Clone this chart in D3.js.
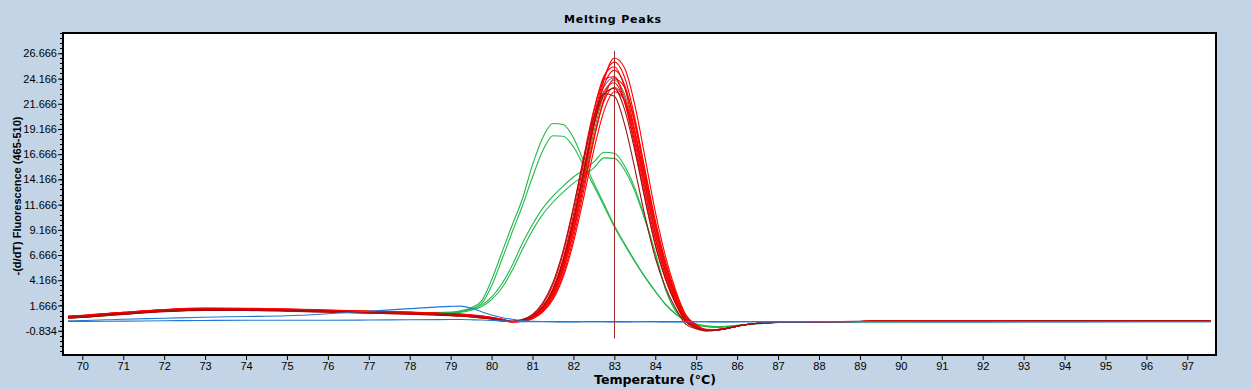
<!DOCTYPE html>
<html><head><meta charset="utf-8">
<script src="https://cdn.jsdelivr.net/npm/d3@7"></script>
<style>
body{margin:0;background:#C2D4E5;}
svg{display:block;font-family:"Liberation Sans",Arial,sans-serif;}
</style>
</head><body>
<svg id="chart" width="1251" height="390"></svg>
<script>
// ---------- data ----------
const temps = [69.65,70,71,72,73,74,75,76,77,78,79,79.25,79.5,79.75,80,80.25,80.5,80.75,81,81.25,81.5,81.75,82,82.25,82.5,82.75,83,83.25,83.5,83.75,84,84.25,84.5,84.75,85,85.25,85.5,85.75,86,86.25,86.5,86.75,87,88,89,90,92,94,96,97.57];

const red1 = [0.6,0.68,0.98,1.25,1.38,1.37,1.3,1.2,1.1,1.0,0.85,0.8,0.7,0.6,0.48,0.3,0.05,0.11,0.41,1.15,2.58,5.13,9.05,14.13,19.57,24.02,26.2,25.21,21.55,16.33,10.97,6.53,3.15,0.71,-0.23,-0.7,-0.72,-0.6,-0.38,-0.22,-0.1,-0.04,0,0.05,0.08,0.1,0.1,0.12,0.12,0.12];
const red2 = [0.55,0.63,0.93,1.2,1.33,1.32,1.25,1.15,1.05,0.95,0.8,0.75,0.67,0.56,0.44,0.26,0.06,0.15,0.49,1.34,2.95,5.72,9.83,15.0,20.27,24.29,25.8,24.29,20.27,15.0,9.83,5.72,2.65,0.44,-0.36,-0.75,-0.74,-0.6,-0.38,-0.22,-0.1,-0.04,0,0.05,0.08,0.1,0.1,0.12,0.12,0.12];
const red3 = [0.5,0.58,0.88,1.15,1.28,1.27,1.2,1.1,1.0,0.9,0.75,0.7,0.62,0.52,0.4,0.22,0.08,0.19,0.6,1.56,3.34,6.33,10.64,15.83,20.89,24.44,25.34,23.29,18.97,13.7,8.77,4.98,2.2,0.22,-0.46,-0.8,-0.75,-0.6,-0.37,-0.21,-0.1,-0.04,0,0.05,0.08,0.1,0.11,0.12,0.12,0.12];
const red4 = [0.45,0.53,0.83,1.1,1.23,1.22,1.15,1.05,0.95,0.85,0.7,0.65,0.57,0.47,0.35,0.17,0.06,0.14,0.47,1.3,2.86,5.54,9.53,14.53,19.65,23.54,25.0,23.54,19.65,14.53,9.53,5.54,2.56,0.4,-0.37,-0.76,-0.74,-0.6,-0.38,-0.22,-0.1,-0.04,0,0.05,0.08,0.1,0.1,0.12,0.12,0.12];
const red5 = [0.58,0.66,0.96,1.23,1.36,1.35,1.28,1.18,1.08,0.98,0.83,0.78,0.7,0.6,0.47,0.3,0.1,0.24,0.71,1.78,3.71,6.87,11.26,16.37,21.08,24.07,24.36,21.86,17.38,12.25,7.66,4.24,1.78,0.01,-0.55,-0.83,-0.78,-0.61,-0.39,-0.22,-0.1,-0.04,0,0.05,0.08,0.1,0.1,0.12,0.12,0.12];
const red6 = [0.42,0.5,0.8,1.07,1.2,1.19,1.12,1.02,0.92,0.82,0.67,0.62,0.54,0.44,0.32,0.14,0.05,0.1,0.37,1.06,2.38,4.74,8.36,13.05,18.08,22.19,24.14,23.29,19.91,15.08,10.13,6.03,2.89,0.59,-0.28,-0.72,-0.73,-0.6,-0.38,-0.22,-0.1,-0.04,0,0.05,0.08,0.1,0.1,0.12,0.12,0.12];
const red7 = [0.53,0.61,0.91,1.18,1.31,1.3,1.23,1.13,1.03,0.93,0.78,0.73,0.65,0.55,0.43,0.25,0.07,0.17,0.56,1.46,3.13,5.93,9.97,14.83,19.57,22.9,23.74,21.82,17.77,12.84,8.22,4.67,2.04,0.15,-0.49,-0.81,-0.75,-0.6,-0.38,-0.22,-0.1,-0.04,0,0.05,0.08,0.1,0.1,0.12,0.12,0.12];
const red8 = [0.47,0.55,0.85,1.12,1.25,1.24,1.17,1.07,0.97,0.87,0.72,0.67,0.59,0.49,0.37,0.19,0.05,0.13,0.44,1.21,2.66,5.17,8.88,13.55,18.31,21.94,23.3,21.94,18.31,13.55,8.88,5.17,2.36,0.31,-0.41,-0.77,-0.74,-0.6,-0.38,-0.22,-0.1,-0.04,0,0.05,0.08,0.1,0.1,0.12,0.12,0.12];
const red9 = [0.62,0.7,1.0,1.27,1.4,1.39,1.32,1.22,1.12,1.02,0.87,0.82,0.74,0.64,0.5,0.32,0.04,0.09,0.35,1.01,2.25,4.48,7.91,12.35,17.1,20.99,22.85,22.03,18.83,14.27,9.59,5.71,2.72,0.51,-0.31,-0.73,-0.73,-0.6,-0.38,-0.22,-0.1,-0.04,0,0.05,0.08,0.1,0.1,0.12,0.12,0.12];
const darkRed1 = [0.4,0.48,0.78,1.05,1.18,1.17,1.1,1.0,0.9,0.8,0.65,0.6,0.52,0.42,0.3,0.12,0.11,0.28,0.79,1.94,3.95,7.13,11.41,16.18,20.35,22.68,22.41,19.63,15.24,10.49,6.4,3.46,1.36,-0.2,-0.63,-0.86,-0.79,-0.6,-0.38,-0.22,-0.1,-0.04,0,0.05,0.08,0.1,0.1,0.12,0.12,0.12];
const darkRed2 = [0.5,0.58,0.88,1.15,1.28,1.27,1.2,1.1,1.0,0.9,0.75,0.7,0.62,0.52,0.4,0.22,0.08,0.19,0.59,1.53,3.24,6.08,10.12,14.92,19.5,22.58,23.19,21.11,17.03,12.18,7.72,4.34,1.86,0.06,-0.53,-0.82,-0.77,-0.6,-0.38,-0.22,-0.1,-0.04,0,0.05,0.08,0.1,0.1,0.12,0.12,0.12];
const olive1 = [0.52,0.6,0.9,1.17,1.3,1.29,1.22,1.12,1.02,0.92,0.77,0.72,0.64,0.54,0.42,0.24,0.06,0.14,0.45,1.25,2.74,5.32,9.15,13.95,18.86,22.6,24.0,22.6,18.86,13.95,9.15,5.32,2.44,0.35,-0.4,-0.77,-0.74,-0.6,-0.38,-0.22,-0.1,-0.04,0,0.06,0.09,0.11,0.11,0.12,0.12,0.12];
const purple1 = [0.48,0.56,0.86,1.13,1.26,1.25,1.18,1.08,0.98,0.9,0.8,0.76,0.68,0.56,0.42,0.24,0.08,0.18,0.57,1.49,3.2,6.06,10.18,15.15,19.99,23.39,24.25,22.29,18.15,13.11,8.39,4.77,2.09,0.17,-0.48,-0.81,-0.75,-0.6,-0.38,-0.22,-0.1,-0.04,0,0.05,0.09,0.1,0.1,0.12,0.12,0.12];
const green1 = [0.42,0.5,0.82,1.1,1.22,1.22,1.18,1.08,1.0,0.95,1.0,1.15,1.45,2.1,4.2,6.9,9.6,12.2,15.6,18.3,19.7,19.6,18.3,16.0,13.8,11.7,9.6,7.8,6.1,4.5,3.1,1.8,0.85,0.2,-0.2,-0.4,-0.45,-0.42,-0.33,-0.22,-0.12,-0.05,0,0.05,0.07,0.08,0.08,0.1,0.1,0.1];
const green2 = [0.45,0.53,0.85,1.12,1.24,1.24,1.2,1.1,1.02,0.96,1.0,1.1,1.35,1.85,3.6,6.2,8.9,11.5,14.4,17.0,18.5,18.45,17.4,15.5,13.5,11.5,9.45,7.7,6.0,4.45,3.05,1.75,0.8,0.18,-0.18,-0.36,-0.42,-0.4,-0.3,-0.2,-0.1,-0.04,0,0.04,0.06,0.07,0.08,0.09,0.1,0.1];
const green3 = [0.48,0.56,0.88,1.14,1.26,1.26,1.22,1.12,1.04,0.98,0.95,1.05,1.3,1.7,2.5,3.8,5.6,7.8,9.7,11.3,12.5,13.5,14.4,15.1,15.9,16.85,16.75,15.5,13.3,10.3,6.9,3.3,1.1,0.15,-0.25,-0.45,-0.5,-0.45,-0.35,-0.25,-0.15,-0.08,-0.02,0.03,0.05,0.06,0.07,0.08,0.08,0.08];
const green4 = [0.44,0.52,0.84,1.1,1.23,1.23,1.19,1.09,1.01,0.95,0.93,1.0,1.2,1.55,2.25,3.4,5.1,7.2,9.1,10.7,11.9,12.9,13.8,14.5,15.3,16.3,16.25,15.1,13.0,10.1,6.8,3.3,1.15,0.2,-0.2,-0.4,-0.45,-0.4,-0.32,-0.22,-0.13,-0.06,-0.01,0.03,0.05,0.06,0.07,0.08,0.08,0.08];
const blue1 = [0.15,0.17,0.3,0.4,0.5,0.57,0.65,0.85,1.1,1.35,1.58,1.6,1.4,1.05,0.72,0.47,0.3,0.17,0.1,0.08,0.07,0.07,0.06,0.06,0.07,0.07,0.07,0.06,0.06,0.06,0.07,0.07,0.07,0.06,0.06,0.06,0.07,0.07,0.07,0.06,0.06,0.06,0.07,0.07,0.07,0.06,0.06,0.06,0.07,0.07];
const blue2 = [0.08,0.09,0.12,0.15,0.18,0.2,0.2,0.2,0.22,0.25,0.27,0.27,0.25,0.22,0.18,0.14,0.1,0.07,0.05,0.05,0.05,0.04,0.04,0.05,0.05,0.05,0.04,0.04,0.05,0.05,0.05,0.04,0.04,0.05,0.05,0.05,0.04,0.04,0.05,0.05,0.05,0.04,0.04,0.05,0.05,0.05,0.04,0.04,0.05,0.05];

const xTicks = [70,71,72,73,74,75,76,77,78,79,80,81,82,83,84,85,86,87,88,89,90,91,92,93,94,95,96,97];
const yTicks = [-0.834,1.666,4.166,6.666,9.166,11.666,14.166,16.666,19.166,21.666,24.166,26.666];
const markerTemp = 83;

const series = [
  {values: olive1, color: "#8C7E1E"},
  {values: purple1, color: "#8A5AAE"},
  {values: green1, color: "#22B84A"},
  {values: green2, color: "#22B84A"},
  {values: green3, color: "#22B84A"},
  {values: green4, color: "#22B84A"},
  {values: red1, color: "#FF0000"},
  {values: red2, color: "#FF0000"},
  {values: red3, color: "#FF0000"},
  {values: red4, color: "#FF0000"},
  {values: red5, color: "#FF0000"},
  {values: red6, color: "#FF0000"},
  {values: red7, color: "#FF0000"},
  {values: red8, color: "#FF0000"},
  {values: red9, color: "#FF0000"},
  {values: darkRed1, color: "#A01010"},
  {values: darkRed2, color: "#A01010"},
  {values: blue1, color: "#1F78D4"},
  {values: blue2, color: "#1F78D4"}
];

// ---------- layout ----------
const L = 63, T = 33, R = 1216, B = 355;
const svg = d3.select("#chart");
const x = d3.scaleLinear().domain([69.528, 97.701]).range([L, R]);
const y = d3.scaleLinear().domain([-3.243, 28.679]).range([B, T]);

svg.append("rect").attr("x", L).attr("y", T).attr("width", R - L).attr("height", B - T).attr("fill", "#fff");

svg.append("defs").append("clipPath").attr("id", "clip")
  .append("rect").attr("x", L).attr("y", T).attr("width", R - L).attr("height", B - T);

// minor y ticks
const minor = d3.range(-3.334, 28.7, 0.5).filter(v => v >= -3.243 && v <= 28.679);
svg.append("g").selectAll("line").data(minor).join("line")
  .attr("x1", L - 3).attr("x2", L)
  .attr("y1", d => Math.round(y(d)) + 0.5).attr("y2", d => Math.round(y(d)) + 0.5)
  .attr("stroke", "#000").attr("stroke-width", 1);

// y axis
const yAxis = svg.append("g").attr("transform", `translate(${L},0)`)
  .call(d3.axisLeft(y).tickValues(yTicks).tickFormat(d => d.toFixed(3)).tickSize(5).tickPadding(1));
yAxis.select(".domain").remove();
yAxis.selectAll("text").attr("font-size", 11).attr("fill", "#000").attr("font-family", "Liberation Sans, Arial, sans-serif");

// x axis
const xAxis = svg.append("g").attr("transform", `translate(0,${B})`)
  .call(d3.axisBottom(x).tickValues(xTicks).tickFormat(d3.format("d")).tickSize(5).tickPadding(2));
xAxis.select(".domain").remove();
xAxis.selectAll("text").attr("font-size", 11).attr("fill", "#000").attr("font-family", "Liberation Sans, Arial, sans-serif");

// curves
const line = d3.line().x((d, i) => x(temps[i])).y(d => y(d)).curve(d3.curveMonotoneX);
svg.append("g").attr("clip-path", "url(#clip)")
  .selectAll("path").data(series).join("path")
  .attr("d", d => line(d.values))
  .attr("fill", "none")
  .attr("stroke", d => d.color)
  .attr("stroke-width", 1.1);

// marker line
svg.append("line")
  .attr("x1", Math.round(x(markerTemp)) + 0.5).attr("x2", Math.round(x(markerTemp)) + 0.5)
  .attr("y1", y(26.9)).attr("y2", y(-1.6))
  .attr("stroke", "#A02828").attr("stroke-width", 1);

// frame
svg.append("rect").attr("x", L).attr("y", T).attr("width", R - L).attr("height", B - T)
  .attr("fill", "none").attr("stroke", "#000").attr("stroke-width", 2);

// title
svg.append("text").attr("x", 613).attr("y", 23).attr("text-anchor", "middle")
  .attr("font-family", "DejaVu Sans, sans-serif")
  .attr("font-size", 11).attr("font-weight", "bold").attr("letter-spacing", 0.8)
  .text("Melting Peaks");

// axis labels
svg.append("text").attr("x", 655).attr("y", 384).attr("text-anchor", "middle")
  .attr("font-family", "DejaVu Sans, sans-serif")
  .attr("font-size", 12.6).attr("font-weight", "bold")
  .text("Temperature (°C)");
svg.append("text").attr("transform", "translate(21,196) rotate(-90)").attr("text-anchor", "middle")
  .attr("font-size", 11).attr("font-weight", "bold")
  .text("-(d/dT) Fluorescence (465-510)");
</script>
</body></html>
